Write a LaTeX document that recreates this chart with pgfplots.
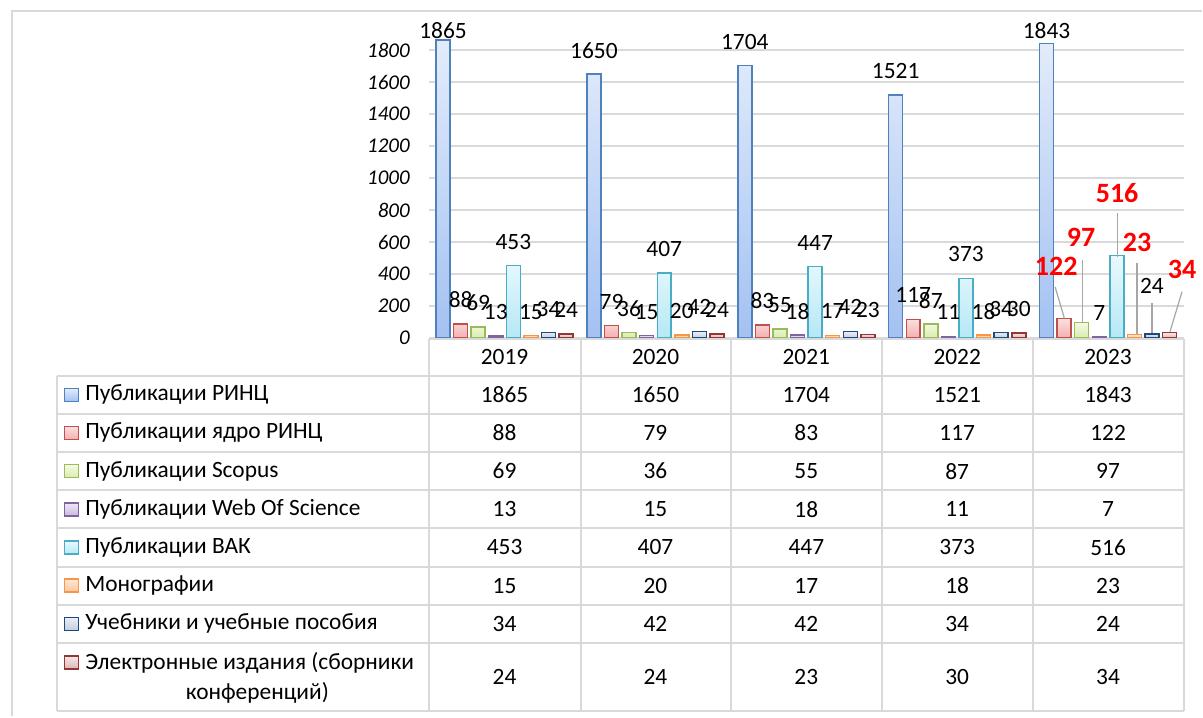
\documentclass[border=0pt]{standalone}
\usepackage{pgfplots}
\pgfplotsset{compat=1.18}
\usepackage{pgfplotstable}
\usepackage{fontspec}
\setmainfont{Carlito}

\definecolor{gridc}{HTML}{D9D9D9}
\definecolor{c1D}{HTML}{4F81BD}\definecolor{c1T}{HTML}{E3ECFB}\definecolor{c1B}{HTML}{A3C1F2}
\definecolor{c2D}{HTML}{C0504D}\definecolor{c2T}{HTML}{FCE0E0}\definecolor{c2B}{HTML}{F2AFAE}
\definecolor{c3D}{HTML}{9BBB59}\definecolor{c3T}{HTML}{F4FAE4}\definecolor{c3B}{HTML}{D9EDAD}
\definecolor{c4D}{HTML}{8064A2}\definecolor{c4T}{HTML}{EEE8F5}\definecolor{c4B}{HTML}{CABAE0}
\definecolor{c5D}{HTML}{4BACC6}\definecolor{c5T}{HTML}{EAF9FD}\definecolor{c5B}{HTML}{B5E8F6}
\definecolor{c6D}{HTML}{F79646}\definecolor{c6T}{HTML}{FEE9D9}\definecolor{c6B}{HTML}{FBC497}
\definecolor{c7D}{HTML}{1F497D}\definecolor{c7T}{HTML}{EBEFF5}\definecolor{c7B}{HTML}{C2CEE0}
\definecolor{c8D}{HTML}{943634}\definecolor{c8T}{HTML}{F7E6E6}\definecolor{c8B}{HTML}{DDB8B8}

\pgfplotstableread{
x s1 s2 s3 s4 s5 s6 s7 s8
0 1865 88 69 13 453 15 34 24
1 1650 79 36 15 407 20 42 24
2 1704 83 55 18 447 17 42 23
3 1521 117 87 11 373 18 34 30
4 1843 122 97 7 516 23 24 34
}\data

\newcommand\tabfont{\fontsize{11.7}{14}\selectfont}
\newcommand\lblfont{\fontsize{11.7}{14}\selectfont}
\newcommand\redfont{\bfseries\fontsize{14}{16}\selectfont}

% #1 column, #2 shift, #3 colour index
\newcommand\bars[3]{%
 \addplot[ybar, bar width=7pt, bar shift=#2, draw=c#3D, line width=0.75pt,
   top color=c#3T, bottom color=c#3B] table[x=x,y=#1]{\data};}
% #1 column, #2 shift, #3 domain of labelled points
\newcommand\labs[3]{%
 \addplot[ybar, bar width=7pt, bar shift=#2, draw=none, fill=none, nodes near coords,
   every node near coord/.append style={xshift=#2}, restrict x to domain=#3] table[x=x,y=#1]{\data};}

\begin{document}
\begin{tikzpicture}
\begin{scope}[x=0.5pt,y=-0.5pt]
\path[use as bounding box] (0,0) rectangle (1203,717);
\end{scope}

\begin{axis}[
  at={(214.75pt,-169.15pt)}, anchor=south west,
  scale only axis, width=377.5pt, height=160pt,
  xmin=-0.5, xmax=4.5, ymin=0, ymax=2000,
  clip=false,
  axis line style={draw=none},
  xtick=\empty,
  ytick={0,200,...,1800},
  major tick length=0pt,
  ymajorgrids, grid style={gridc, line width=1pt},
  /pgf/number format/1000 sep={},
  /pgf/number format/assume math mode=true,
  yticklabel={\itshape\pgfmathprintnumber{\tick}},
  yticklabel style={font=\fontsize{10.5}{12}\selectfont\itshape, xshift=-6.2pt},
  every node near coord/.append style={font=\lblfont, text=black, anchor=center, yshift=12pt},
]
\bars{s1}{-30.8pt}{1}
\bars{s2}{-22pt}{2}
\bars{s3}{-13.2pt}{3}
\bars{s4}{-4.4pt}{4}
\bars{s5}{4.4pt}{5}
\bars{s6}{13.2pt}{6}
\bars{s7}{22pt}{7}
\bars{s8}{30.8pt}{8}

\labs{s1}{-30.8pt}{0.5:3.5}
\labs{s2}{-22pt}{0:3.5}
\labs{s3}{-13.2pt}{0:3.5}
\labs{s4}{-4.4pt}{0:4.5}
\labs{s5}{4.4pt}{0:3.5}
\labs{s6}{13.2pt}{0:3.5}
\labs{s7}{22pt}{0:3.5}
\labs{s8}{30.8pt}{0:3.5}

% labels of the tallest bars, held inside the plot area
\node[font=\lblfont] at (axis cs:-0.408,1922) {1865};
\node[font=\lblfont] at (axis cs:3.592,1922) {1843};

% leader lines for 2023 labels
\draw[gray!70, line width=0.6pt] (axis cs:3.649,320) -- (axis cs:3.709,127);
\draw[gray!70, line width=0.6pt] (axis cs:3.828,489) -- (axis cs:3.828,96);
\draw[gray!70, line width=0.6pt] (axis cs:4.06,783) -- (axis cs:4.06,508);
\draw[gray!70, line width=0.6pt] (axis cs:4.192,471) -- (axis cs:4.192,27);
\draw[gray!70, line width=0.6pt] (axis cs:4.291,221) -- (axis cs:4.291,33);
\draw[gray!70, line width=0.6pt] (axis cs:4.49,289) -- (axis cs:4.41,39);
\node[font=\redfont, text=red] at (axis cs:3.656,446) {122};
\node[font=\redfont, text=red] at (axis cs:3.821,633) {97};
\node[font=\redfont, text=red] at (axis cs:4.06,908) {516};
\node[font=\redfont, text=red] at (axis cs:4.192,596) {23};
\node[font=\lblfont] at (axis cs:4.291,327) {24};
\node[font=\redfont, text=red] at (axis cs:4.49,427) {34};
\end{axis}

\begin{scope}[x=0.5pt,y=-0.5pt]
% outer frame
\draw[gridc, line width=1pt] (11.7,717) -- (11.7,11) -- (1203,11);
% table lines
\draw[gridc, line width=1pt] (429.5,339.5) -- (1184.5,339.5);
\foreach \yy in {376,414.2,452.4,490.6,528.8,567,605.5,644,711.5}
  \draw[gridc, line width=1pt] (57,\yy) -- (1184.5,\yy);
\draw[gridc, line width=1pt] (57,376) -- (57,711.5);
\foreach \xx in {429.5,581,732,883,1033.5,1184.5}
  \draw[gridc, line width=1pt] (\xx,339.5) -- (\xx,711.5);
% years
\foreach \r/\yr in {0/2019,1/2020,2/2021,3/2022,4/2023}
  \node[font=\tabfont] at ({505+151*\r},357.7) {\yr};
% values
\foreach \r in {0,...,4}{
  \foreach \c in {1,...,8}{
    \pgfplotstablegetelem{\r}{s\c}\of\data
    \pgfmathsetmacro\yy{\c<8 ? 376+38.2*(\c-0.5) : 677.5}
    \node[font=\tabfont] at ({505+151*\r},\yy) {\pgfplotsretval};
  }
}
% legend column
\foreach \c/\txt in {1/Публикации РИНЦ,2/Публикации ядро РИНЦ,3/Публикации Scopus,4/Публикации Web Of Science,5/Публикации ВАК,6/Монографии,7/Учебники и учебные пособия}{
  \pgfmathsetmacro\yy{376+38.2*(\c-0.5)}
  \draw[draw=c\c D, line width=0.75pt, top color=c\c T, bottom color=c\c B] (64.5,\yy-6.5) rectangle (78.5,\yy+6.5);
  \node[font=\tabfont, anchor=west, inner sep=0pt] at (85,\yy) {\txt};
}
\draw[draw=c8D, line width=0.75pt, top color=c8T, bottom color=c8B] (64.5,656.5) rectangle (78.5,669.5);
\node[font=\tabfont, anchor=west, inner sep=0pt] at (85,663) {Электронные издания (сборники};
\node[font=\tabfont, inner sep=0pt] at (257.5,693) {конференций)};
\end{scope}
\end{tikzpicture}
\end{document}
